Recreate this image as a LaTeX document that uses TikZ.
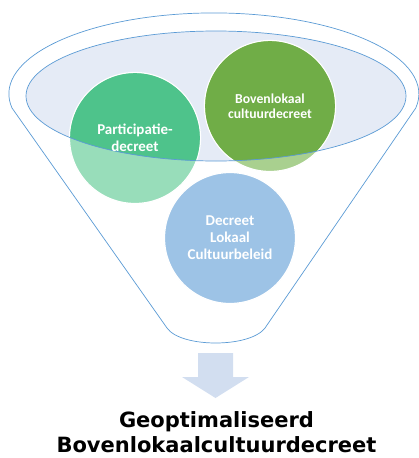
\documentclass[tikz,border=0pt]{standalone}
\usepackage{fontspec}
\setmainfont{Carlito}
\newfontfamily\titlefont{DejaVu Sans}
\usetikzlibrary{positioning}
\definecolor{funnelblue}{HTML}{5B9BD5}
\definecolor{rimfill}{HTML}{E5EBF6}
\definecolor{partgreen}{HTML}{4EC38B}
\definecolor{partlight}{HTML}{98DDBA}
\definecolor{bovgreen}{HTML}{70AD47}
\definecolor{bovlight}{HTML}{A9D08F}
\definecolor{declblue}{HTML}{9DC3E6}
\definecolor{arrowfill}{HTML}{D2DEF0}
\tikzset{ball/.style={circle,draw=white,line width=1.2pt,minimum size=131pt,inner sep=0pt},
  balltext/.style={align=center,text=white,inner sep=0pt,font=\bfseries\fontsize{15}{17}\selectfont},
  rim/.style={draw=funnelblue,line width=0.7pt},
  result/.style={align=center,inner sep=0pt,font=\titlefont\bfseries\fontsize{21}{24.5}\selectfont}}

\begin{document}
\begin{tikzpicture}[x=1pt,y=-1pt]
\useasboundingbox (0,0) rectangle (418,458);
% funnel
\draw[rim,fill=white] (12,108) arc[start angle=170,end angle=370,x radius=205,y radius=81]
  -- (265,328) .. controls (250,348) and (181,348) .. (167,328) -- cycle;
\fill[rimfill] (216,96) ellipse[x radius=190,y radius=65];
% circles
\node[ball,fill=partlight] (part) at (135,138) {};
\node[ball,fill=bovlight] (bov) at (270,106) {};
\node[ball,fill=declblue] (decl) at (230,238) {};
\begin{scope}
\clip (216,96) ellipse[x radius=190,y radius=65];
\fill[partgreen] (part.center) circle[radius=64.8pt];
\fill[bovgreen] (bov.center) circle[radius=64.8pt];
\end{scope}
\draw[rim] (216,96) ellipse[x radius=190,y radius=65];
\node[balltext] (parttext) at (part.center) {Participatie-\\decreet};
\node[balltext,font=\bfseries\fontsize{13.7}{15}\selectfont] (bovtext) at (bov.center) {Bovenlokaal\\cultuurdecreet};
\node[balltext] (decltext) at (decl.center) {Decreet\\Lokaal\\Cultuurbeleid};
% arrow and result
\fill[arrowfill] (198,353) -- (233,353) -- (233,377) -- (249,377) -- (215.5,398) -- (182,377) -- (198,377) -- cycle;
\coordinate (tip) at (216.5,398);
\node[result,below=13.5pt of tip] (final) {Geoptimaliseerd\\Bovenlokaalcultuurdecreet};
\end{tikzpicture}
\end{document}
